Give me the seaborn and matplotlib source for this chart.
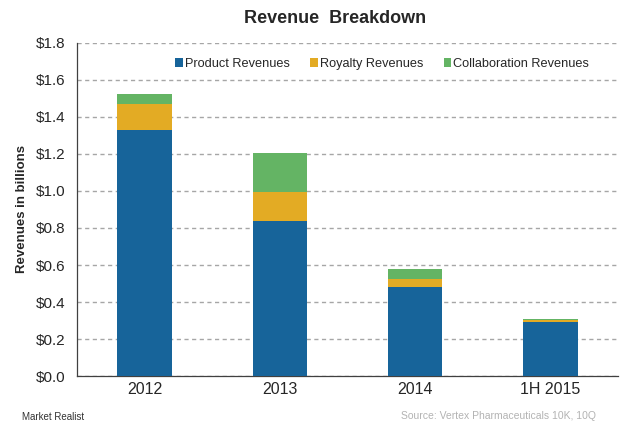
import matplotlib
matplotlib.use("Agg")
import matplotlib.pyplot as plt
import seaborn as sns
import pandas as pd
import numpy as np
from matplotlib.patches import Patch

sns.set_style("white")
plt.rcParams['font.family'] = ['Liberation Sans', 'DejaVu Sans']

# data (billions)
periods = ["2012", "2013", "2014", "1H 2015"]
product = [1.330, 0.836, 0.483, 0.290]
royalty = [0.140, 0.157, 0.041, 0.011]
collab = [0.054, 0.214, 0.053, 0.005]
series_names = ["Product Revenues", "Royalty Revenues", "Collaboration Revenues"]
colors = ["#17649A", "#E3AB24", "#64B464"]
yticks = [0.0, 0.2, 0.4, 0.6, 0.8, 1.0, 1.2, 1.4, 1.6, 1.8]

df = pd.DataFrame({"period": periods, "product": product,
                   "royalty": royalty, "collab": collab})
df["lvl2"] = df["product"] + df["royalty"]
df["lvl3"] = df["lvl2"] + df["collab"]

fig = plt.figure(figsize=(6.2, 4.32), dpi=100)
ax = fig.add_axes([0.124, 0.1296, 0.873, 0.7709])

# stacked bars: draw totals first, then overlay lower parts
for col, c in zip(["lvl3", "lvl2", "product"], colors[::-1]):
    sns.barplot(data=df, x="period", y=col, color=c, width=0.4,
                saturation=1, ax=ax, zorder=3, edgecolor='none', linewidth=0)

ax.set_ylim(0, 1.8)
ax.set_yticks(yticks)
ax.set_yticklabels([f"${v:.1f}" for v in yticks], fontsize=11)
ax.tick_params(axis='x', labelsize=11.5, length=0, pad=4)
ax.tick_params(axis='y', length=0, pad=8)
ax.set_xlabel("")
ax.set_ylabel("Revenues in billions", fontsize=9.5, fontweight='bold', labelpad=6)
ax.grid(axis='y', linestyle=(0, (3, 2.5)), color='#A6A6A6', linewidth=1, zorder=0)
for s in ["top", "right"]:
    ax.spines[s].set_visible(False)
for s in ["left", "bottom"]:
    ax.spines[s].set_color("#404040")
    ax.spines[s].set_linewidth(0.9)

handles = [Patch(facecolor=c, edgecolor='none') for c in colors]
ax.legend(handles, series_names, loc='center', bbox_to_anchor=(0.564, 0.937),
          ncol=3, frameon=False, fontsize=9.2, handlelength=0.6, handleheight=0.6,
          handletextpad=0.15, columnspacing=1.6)

fig.text(0.54, 0.958, "Revenue  Breakdown", ha='center', va='center',
         fontsize=13, fontweight='bold')
fig.text(0.961, 0.038, "Source: Vertex Pharmaceuticals 10K, 10Q", ha='right',
         va='center', fontsize=7.5, color='#B3B3B3')
fig.text(0.035, 0.035, "Market Realist", ha='left', va='center', fontsize=7,
         color='#333333')

fig.savefig("out.png", dpi=100)
